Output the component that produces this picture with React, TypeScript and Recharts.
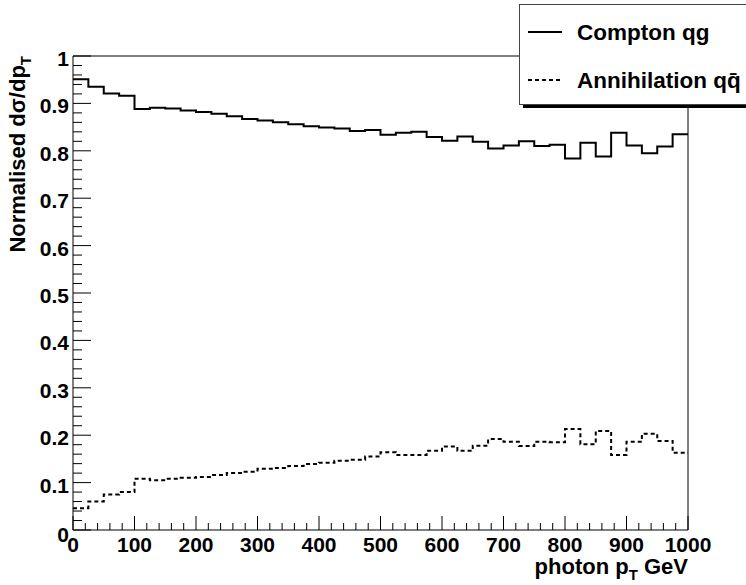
import React from 'react';
import { LineChart, Line, XAxis, YAxis, ReferenceLine, Legend } from 'recharts';

// Bin lower edges (GeV), bin width 25, range 0..1000
const binLowEdges = [
  0, 25, 50, 75, 100, 125, 150, 175, 200, 225,
  250, 275, 300, 325, 350, 375, 400, 425, 450, 475,
  500, 525, 550, 575, 600, 625, 650, 675, 700, 725,
  750, 775, 800, 825, 850, 875, 900, 925, 950, 975,
];
const xRangeEnd = 1000;

// Normalised fraction per bin
const comptonQG = [
  0.951, 0.935, 0.921, 0.916, 0.888, 0.891, 0.889, 0.885, 0.882, 0.878,
  0.873, 0.867, 0.864, 0.860, 0.856, 0.852, 0.849, 0.847, 0.842, 0.844,
  0.834, 0.838, 0.840, 0.829, 0.821, 0.830, 0.819, 0.805, 0.811, 0.820,
  0.810, 0.813, 0.784, 0.817, 0.788, 0.838, 0.811, 0.795, 0.809, 0.835,
];
const annihilationQQbar = [
  0.046, 0.060, 0.075, 0.080, 0.108, 0.105, 0.108, 0.110, 0.112, 0.116,
  0.120, 0.123, 0.129, 0.131, 0.135, 0.139, 0.142, 0.146, 0.148, 0.155,
  0.164, 0.158, 0.158, 0.167, 0.176, 0.167, 0.178, 0.192, 0.186, 0.177,
  0.186, 0.185, 0.213, 0.181, 0.209, 0.158, 0.186, 0.203, 0.188, 0.163,
];

const xMajorTickLabels = ['0', '100', '200', '300', '400', '500', '600', '700', '800', '900', '1000'];
const yMajorTickLabels = ['0', '0.1', '0.2', '0.3', '0.4', '0.5', '0.6', '0.7', '0.8', '0.9', '1'];

const seriesKeys = ['compton', 'annih'];
const seriesNames = ['Compton qg', 'Annihilation q\u0071\u0304'];

const FONT = '"Liberation Sans", Arial, Helvetica, sans-serif';
const LABEL_SIZE = 21;
const TITLE_SIZE = 22;
const LEGEND_SIZE = 22.5;

const lastIdx = binLowEdges.length - 1;
const data = [
  ...binLowEdges.map((x, i) => ({ x, compton: comptonQG[i], annih: annihilationQQbar[i] })),
  { x: xRangeEnd, compton: comptonQG[lastIdx], annih: annihilationQQbar[lastIdx] },
];

// minor ticks every 20 GeV / 0.02, majors every 100 GeV / 0.1
const xTicks = Array.from({ length: 51 }, (_, i) => i * 20);
const yTicks = Array.from({ length: 51 }, (_, i) => i / 50);

const XTick = (props: any) => {
  const { x, y, payload } = props;
  const v = Math.round(payload.value);
  const major = v % 100 === 0;
  return (
    <g>
      <line x1={x} y1={y} x2={x} y2={y - (major ? 14 : 7)} stroke="#000" strokeWidth={1} />
      {major && (
        <text x={x} y={y + 22} textAnchor="middle" fontFamily={FONT} fontWeight="bold" fontSize={LABEL_SIZE} fill="#000">
          {xMajorTickLabels[v / 100]}
        </text>
      )}
    </g>
  );
};

const YTick = (props: any) => {
  const { x, y, payload } = props;
  const k = Math.round(payload.value * 100);
  const major = k % 10 === 0;
  return (
    <g>
      <line x1={x} y1={y} x2={x + (major ? 18 : 9)} y2={y} stroke="#000" strokeWidth={1} />
      {major && (
        <text x={x - 4} y={y + (k === 0 ? 12 : 10)} textAnchor="end" fontFamily={FONT} fontWeight="bold" fontSize={LABEL_SIZE} fill="#000">
          {yMajorTickLabels[k / 10]}
        </text>
      )}
    </g>
  );
};

const XTitle = (props: any) => {
  const vb = props.viewBox || { x: 73, y: 530, width: 615, height: 55 };
  const xEnd = vb.x + vb.width;
  const yBase = vb.y + 44;
  return (
    <text x={xEnd} y={yBase} textAnchor="end" fontFamily={FONT} fontWeight="bold" fontSize={TITLE_SIZE} fill="#000">
      photon p<tspan dy={6} fontSize={15}>T</tspan><tspan dy={-6}> GeV</tspan>
    </text>
  );
};

const YTitle = (props: any) => {
  const vb = props.viewBox || { x: 0, y: 56, width: 73, height: 474 };
  const xb = vb.x + 25;
  const yt = vb.y;
  return (
    <text x={xb} y={yt} transform={`rotate(-90, ${xb}, ${yt})`} textAnchor="end" fontFamily={FONT} fontWeight="bold" fontSize={TITLE_SIZE} fill="#000">
      Normalised dσ/dp<tspan dy={6} fontSize={15}>T</tspan>
    </text>
  );
};

const LegendBox = (props: any) => {
  const payload = [...(props.payload || [])].sort(
    (a: any, b: any) => seriesKeys.indexOf(a.dataKey) - seriesKeys.indexOf(b.dataKey)
  );
  return (
    <div
      style={{
        position: 'relative',
        width: 262,
        height: 101,
        boxSizing: 'border-box',
        background: '#fff',
        border: '1px solid #444',
        boxShadow: '4px 3px 0 0 #000',
      }}
    >
      <svg width={260} height={99} style={{ position: 'absolute', left: 0, top: 0 }}>
        {payload.map((entry: any, i: number) => {
          const dashed = entry.dataKey === 'annih';
          const cy = 27 + i * 48;
          return (
            <g key={i}>
              <line x1={8} x2={42} y1={cy} y2={cy} stroke="#000" strokeWidth={2} strokeDasharray={dashed ? '4 3' : undefined} />
              <text x={57} y={cy + 8} fontFamily={FONT} fontWeight="bold" fontSize={LEGEND_SIZE} fill="#000">
                {entry.value}
              </text>
            </g>
          );
        })}
      </svg>
    </div>
  );
};

export default function App() {
  return (
    <div style={{ position: 'absolute', left: 0, top: 0, width: 746, height: 585, overflow: 'hidden', background: '#fff' }}>
      <LineChart width={746} height={585} data={data} margin={{ top: 56, right: 58, left: 0, bottom: 0 }}>
        <XAxis
          dataKey="x"
          type="number"
          domain={[0, xRangeEnd]}
          ticks={xTicks}
          interval={0}
          tickSize={0}
          tickMargin={0}
          tickLine={false}
          axisLine={{ stroke: '#000', strokeWidth: 1 }}
          tick={<XTick />}
          height={55}
          allowDataOverflow
          label={<XTitle />}
        />
        <YAxis
          type="number"
          domain={[0, 1]}
          ticks={yTicks}
          interval={0}
          tickSize={0}
          tickMargin={0}
          tickLine={false}
          axisLine={{ stroke: '#000', strokeWidth: 1 }}
          tick={<YTick />}
          width={73}
          allowDataOverflow
          label={<YTitle />}
        />
        <ReferenceLine y={1} stroke="#000" strokeWidth={1} />
        <ReferenceLine x={xRangeEnd} stroke="#000" strokeWidth={1} />
        <Line
          type="stepAfter"
          dataKey="compton"
          name={seriesNames[0]}
          stroke="#000"
          strokeWidth={2}
          dot={false}
          activeDot={false}
          isAnimationActive={false}
        />
        <Line
          type="stepAfter"
          dataKey="annih"
          name={seriesNames[1]}
          stroke="#000"
          strokeWidth={2}
          strokeDasharray="4 3"
          dot={false}
          activeDot={false}
          isAnimationActive={false}
        />
        <Legend
          layout="horizontal"
          align="center"
          verticalAlign="middle"
          content={<LegendBox />}
          wrapperStyle={{ left: 519, top: 4, width: 262, height: 104 }}
        />
      </LineChart>
    </div>
  );
}
